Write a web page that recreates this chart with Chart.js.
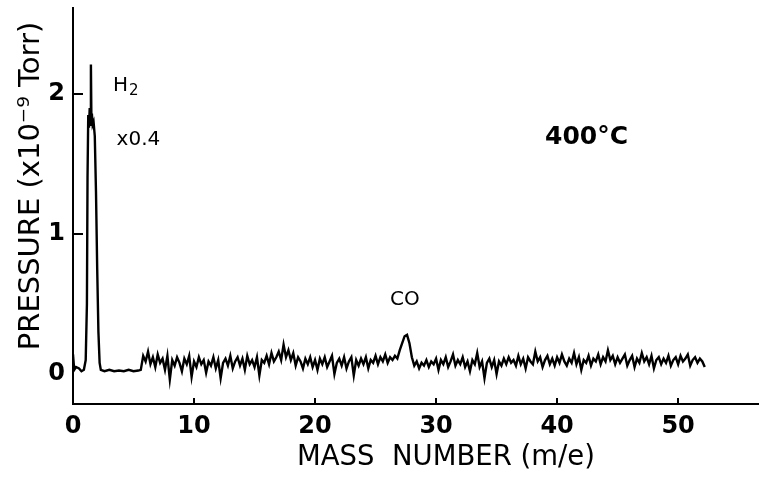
<!DOCTYPE html>
<html>
<head>
<meta charset="utf-8">
<script src="https://cdn.jsdelivr.net/npm/chart.js@4/dist/chart.umd.min.js"></script>
<style>
  html, body { margin: 0; padding: 0; background: #fff; }
  #wrap { width: 760px; height: 478px; position: relative; }
</style>
</head>
<body>
<div id="wrap"><canvas id="chart_1"></canvas></div>
<script>
// mass scan at 400 C
var peakMass = [0, 0.1, 0.25, 0.5, 0.7, 0.9, 1.05, 1.15, 1.2, 1.26, 1.32, 1.38, 1.44, 1.48, 1.52, 1.56, 1.62, 1.7, 1.8, 1.9, 2.0, 2.1, 2.2, 2.3, 2.6, 3.0, 3.4, 3.8, 4.2, 4.6, 5.0, 5.4, 5.6];
var peakPressure = [0.14, 0.03, 0.05, 0.04, 0.02, 0.03, 0.1, 0.5, 1.4, 1.85, 1.76, 1.9, 1.78, 2.21, 1.82, 1.86, 1.78, 1.8, 1.7, 1.3, 0.75, 0.3, 0.08, 0.03, 0.02, 0.03, 0.02, 0.025, 0.02, 0.03, 0.02, 0.025, 0.03];

var scanMass = [
  5.8,
  6, 6.2, 6.4, 6.6, 6.8, 7, 7.2, 7.4, 7.6, 7.8,
  8, 8.2, 8.4, 8.6, 8.8, 9, 9.2, 9.4, 9.6, 9.8,
  10, 10.2, 10.4, 10.6, 10.8, 11, 11.2, 11.4, 11.6, 11.8,
  12, 12.2, 12.4, 12.6, 12.8, 13, 13.2, 13.4, 13.6, 13.8,
  14, 14.2, 14.4, 14.6, 14.8, 15, 15.2, 15.4, 15.6, 15.8,
  16, 16.2, 16.4, 16.6, 16.8, 17, 17.2, 17.4, 17.6, 17.8,
  18, 18.2, 18.4, 18.6, 18.8, 19, 19.2, 19.4, 19.6, 19.8,
  20, 20.2, 20.4, 20.6, 20.8, 21, 21.2, 21.4, 21.6, 21.8,
  22, 22.2, 22.4, 22.6, 22.8, 23, 23.2, 23.4, 23.6, 23.8,
  24, 24.2, 24.4, 24.6, 24.8, 25, 25.2, 25.4, 25.6, 25.8,
  26, 26.2, 26.4, 26.6, 26.8, 27, 27.2, 27.4, 27.6, 27.8,
  28, 28.2, 28.4, 28.6, 28.8, 29, 29.2, 29.4, 29.6, 29.8,
  30, 30.2, 30.4, 30.6, 30.8, 31, 31.2, 31.4, 31.6, 31.8,
  32, 32.2, 32.4, 32.6, 32.8, 33, 33.2, 33.4, 33.6, 33.8,
  34, 34.2, 34.4, 34.6, 34.8, 35, 35.2, 35.4, 35.6, 35.8,
  36, 36.2, 36.4, 36.6, 36.8, 37, 37.2, 37.4, 37.6, 37.8,
  38, 38.2, 38.4, 38.6, 38.8, 39, 39.2, 39.4, 39.6, 39.8,
  40, 40.2, 40.4, 40.6, 40.8, 41, 41.2, 41.4, 41.6, 41.8,
  42, 42.2, 42.4, 42.6, 42.8, 43, 43.2, 43.4, 43.6, 43.8,
  44, 44.2, 44.4, 44.6, 44.8, 45, 45.2, 45.4, 45.6, 45.8,
  46, 46.2, 46.4, 46.6, 46.8, 47, 47.2, 47.4, 47.6, 47.8,
  48, 48.2, 48.4, 48.6, 48.8, 49, 49.2, 49.4, 49.6, 49.8,
  50, 50.2, 50.4, 50.6, 50.8, 51, 51.2, 51.4, 51.6, 51.8,
  52, 52.2
];
var scanPressure = [
  0.13,
  0.09, 0.16, 0.07, 0.12, 0.05, 0.14, 0.08, 0.11, 0.03, 0.13,
  -0.04, 0.1, 0.06, 0.12, 0.08, 0.02, 0.11, 0.07, 0.13, -0.02,
  0.09, 0.05, 0.12, 0.07, 0.1, 0.01, 0.09, 0.06, 0.12, 0.04,
  0.1, -0.03, 0.08, 0.11, 0.06, 0.13, 0.04, 0.09, 0.12, 0.06,
  0.11, 0.03, 0.13, 0.07, 0.1, 0.05, 0.12, -0.01, 0.1, 0.08,
  0.13, 0.07, 0.15, 0.09, 0.12, 0.16, 0.1, 0.21, 0.12, 0.17,
  0.1, 0.15, 0.06, 0.12, 0.09, 0.04, 0.11, 0.07, 0.12, 0.05,
  0.1, 0.03, 0.11, 0.07, 0.12, 0.05, 0.09, 0.13, 0.0, 0.08,
  0.11, 0.06, 0.12, 0.04, 0.09, 0.12, -0.01, 0.1, 0.06, 0.11,
  0.07, 0.12, 0.04, 0.1, 0.08, 0.13, 0.07, 0.12, 0.09, 0.14,
  0.08, 0.12, 0.1, 0.13, 0.11, 0.17, 0.22, 0.27, 0.28, 0.22,
  0.12, 0.06, 0.09, 0.04, 0.08, 0.06, 0.1, 0.05, 0.09, 0.07,
  0.11, 0.03, 0.1, 0.07, 0.12, 0.05, 0.09, 0.14, 0.06, 0.1,
  0.07, 0.12, 0.05, 0.09, 0.02, 0.1, 0.07, 0.15, 0.05, 0.09,
  -0.03, 0.08, 0.11, 0.05, 0.1, 0.0, 0.09, 0.06, 0.11, 0.07,
  0.12, 0.08, 0.1, 0.06, 0.13, 0.07, 0.11, 0.04, 0.12, 0.09,
  0.07, 0.16, 0.09, 0.12, 0.05, 0.1, 0.13, 0.07, 0.11, 0.06,
  0.12, 0.08, 0.14, 0.09, 0.06, 0.11, 0.08, 0.15, 0.07, 0.12,
  0.03, 0.1, 0.08, 0.13, 0.06, 0.11, 0.09, 0.14, 0.07, 0.12,
  0.09, 0.17, 0.1, 0.13, 0.07, 0.12, 0.08, 0.11, 0.14, 0.06,
  0.1, 0.13, 0.05, 0.11, 0.08, 0.15, 0.09, 0.12, 0.07, 0.13,
  0.04, 0.1, 0.12, 0.07, 0.11, 0.08, 0.13, 0.06, 0.1, 0.12,
  0.07, 0.13, 0.09, 0.11, 0.14, 0.06, 0.1, 0.12, 0.08, 0.11,
  0.09, 0.05
];

var xTicks = [0, 10, 20, 30, 40, 50];
var yTicks = [0, 1, 2];
var xTickMarks = [10, 20, 30, 40, 50];
var yTickMarks = [1, 2];

var labelFont = 'DejaVu Sans';

function toPoints(xs, ys) {
  return xs.map(function (x, i) { return { x: x, y: ys[i] }; });
}

var tracePoints = toPoints(peakMass, peakPressure).concat(toPoints(scanMass, scanPressure));

var decorPlugin = {
  id: 'decor',
  afterDraw: function (chart) {
    var ctx = chart.ctx;
    var xs = chart.scales.x;
    var ys = chart.scales.y;
    var area = chart.chartArea;

    ctx.save();
    ctx.strokeStyle = '#000';
    ctx.lineWidth = 2;
    // inward tick marks
    yTickMarks.forEach(function (v) {
      var py = Math.round(ys.getPixelForValue(v));
      ctx.beginPath();
      ctx.moveTo(area.left, py);
      ctx.lineTo(area.left + 10, py);
      ctx.stroke();
    });
    xTickMarks.forEach(function (v) {
      var px = Math.round(xs.getPixelForValue(v));
      ctx.beginPath();
      ctx.moveTo(px, area.bottom);
      ctx.lineTo(px, area.bottom - 6);
      ctx.stroke();
    });

    ctx.fillStyle = '#000';
    ctx.textBaseline = 'middle';
    ctx.textAlign = 'left';

    // H2 label
    ctx.font = '20px ' + labelFont;
    var hx = xs.getPixelForValue(3.3);
    var hy = ys.getPixelForValue(2.06);
    ctx.fillText('H', hx, hy);
    var hw = ctx.measureText('H').width;
    ctx.font = '15px ' + labelFont;
    ctx.fillText('2', hx + hw + 1, hy + 6);

    ctx.font = '20px ' + labelFont;
    ctx.fillText('x0.4', xs.getPixelForValue(3.6), ys.getPixelForValue(1.67));
    ctx.fillText('CO', xs.getPixelForValue(26.2), ys.getPixelForValue(0.53));

    ctx.font = 'bold 25px ' + labelFont;
    ctx.fillText('400\u00b0C', xs.getPixelForValue(39.0), ys.getPixelForValue(1.69));

    // axis titles
    ctx.textAlign = 'center';
    ctx.font = '27.5px ' + labelFont;
    ctx.fillText('MASS  NUMBER (m/e)', 446, 458);

    ctx.translate(31, 186);
    ctx.rotate(-Math.PI / 2);
    ctx.font = '29px ' + labelFont;
    ctx.fillText('PRESSURE (x10\u207b\u2079 Torr)', 0, 0);
    ctx.restore();
  }
};

var canvas = document.getElementById('chart_1');
var chart = new Chart(canvas.getContext('2d'), {
  type: 'line',
  data: {
    datasets: [{
      data: tracePoints,
      borderColor: '#000',
      borderWidth: 2.4,
      pointRadius: 0,
      tension: 0,
      fill: false
    }]
  },
  options: {
    responsive: true,
    maintainAspectRatio: false,
    animation: false,
    layout: { padding: { top: 8, right: 2, left: 0, bottom: 0 } },
    plugins: {
      legend: { display: false },
      tooltip: { enabled: false }
    },
    scales: {
      x: {
        type: 'linear',
        min: 0,
        max: 56.6,
        afterFit: function (scale) {
          scale.height = 74;
          scale.paddingLeft = 0;
          scale.paddingRight = 0;
        },
        afterBuildTicks: function (scale) {
          scale.ticks = xTicks.map(function (v) { return { value: v }; });
        },
        grid: { display: false, drawTicks: false },
        border: { display: true, color: '#000', width: 2 },
        ticks: {
          color: '#000',
          padding: 8,
          maxRotation: 0,
          font: { family: labelFont, size: 24, weight: 'bold' }
        }
      },
      y: {
        type: 'linear',
        min: -0.214,
        max: 2.614,
        afterFit: function (scale) {
          scale.width = 73;
          scale.paddingTop = 0;
          scale.paddingBottom = 0;
        },
        afterBuildTicks: function (scale) {
          scale.ticks = yTicks.map(function (v) { return { value: v }; });
        },
        grid: { display: false, drawTicks: false },
        border: { display: true, color: '#000', width: 2 },
        ticks: {
          color: '#000',
          padding: 8,
          font: { family: labelFont, size: 24, weight: 'bold' }
        }
      }
    }
  },
  plugins: [decorPlugin]
});
</script>
</body>
</html>
